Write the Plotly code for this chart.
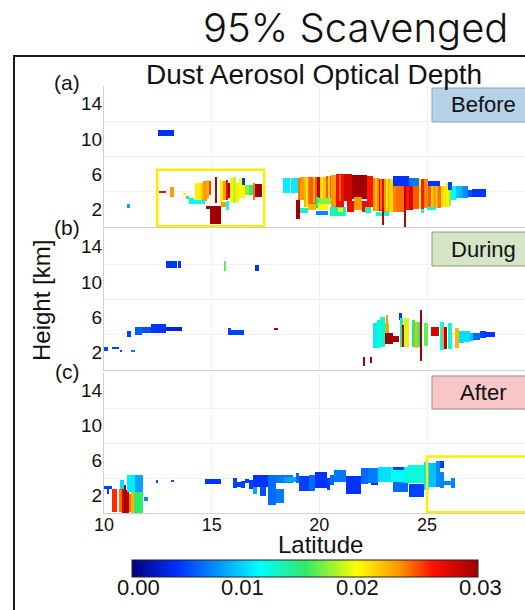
import plotly.graph_objects as go

# Each row: latitude start, latitude end, height low [km], height high [km], dust AOD
before_isolated = [
    (11.07, 11.22, 2.2, 2.6, .008), (12.5, 13.25, 10.35, 11.0, .0038),
    (12.55, 12.9, 3.9, 4.1, .027), (13.07, 13.25, 3.4, 4.55, .023),
    (13.65, 13.8, 3.65, 3.8, .02), (13.8, 13.95, 3.2, 3.5, .015),
]
before_box = [
    (13.95, 14.2, 2.6, 3.3, .013), (14.0, 14.7, 2.6, 3.05, .011),
    (14.23, 14.51, 3.07, 4.96, .02), (14.51, 14.6, 3.07, 4.96, .0215),
    (14.6, 14.76, 2.9, 5.23, .023), (14.76, 14.88, 3.26, 5.34, .022),
    (14.88, 14.95, 3.6, 5.23, .025), (15.19, 15.24, 2.7, 5.7, .029),
    (15.4, 15.53, 2.7, 5.34, .02), (15.53, 15.66, 3.07, 5.23, .023),
    (15.66, 15.78, 3.07, 5.34, .027), (15.78, 15.84, 3.3, 4.96, .03),
    (15.84, 15.97, 2.88, 5.53, .02), (15.97, 16.15, 2.69, 5.72, .018),
    (16.15, 16.25, 2.88, 5.0, .02), (16.28, 16.56, 3.26, 5.53, .0195),
    (16.4, 16.56, 4.77, 5.53, .004), (16.56, 16.74, 3.6, 4.77, .017),
    (16.74, 16.9, 3.64, 4.77, .015), (16.9, 17.02, 3.07, 4.96, .024),
    (17.02, 17.33, 3.45, 4.85, .03), (15.45, 15.66, 2.3, 2.88, .023),
    (15.66, 15.8, 1.93, 2.9, .011), (14.72, 15.45, 2.05, 2.4, .03),
    (14.9, 15.45, .35, 2.4, .03),
]
before_body = [
    (18.3, 18.65, 3.9, 5.55, .0105), (18.7, 19.0, 3.9, 5.55, .0105),
    (19.02, 19.12, 3.07, 5.6, .024), (19.12, 19.3, 3.07, 5.65, .023),
    (19.3, 19.45, 2.3, 5.65, .022), (19.45, 19.57, 2.3, 5.7, .024),
    (19.57, 19.9, 2.3, 5.7, .0245), (19.9, 20.03, 2.7, 5.65, .029),
    (20.03, 20.3, 2.6, 5.7, .0215), (20.3, 20.53, 2.6, 5.8, .0245),
    (20.53, 20.78, 2.3, 5.85, .023), (20.78, 21.15, 2.3, 6.0, .0265),
    (21.15, 21.5, 2.9, 6.05, .028), (21.5, 22.2, 3.2, 5.95, .03),
    (22.2, 22.5, 2.3, 5.8, .026), (22.5, 22.75, 1.8, 5.6, .0235),
    (22.75, 23.0, 1.8, 5.5, .027), (23.0, 23.25, 1.75, 5.45, .023),
    (23.25, 23.41, 1.75, 5.4, .021), (23.41, 23.56, 1.75, 5.3, .0235),
    (23.56, 23.95, 1.75, 4.6, .024), (24.03, 24.18, 1.95, 4.6, .026),
    (24.18, 24.33, 1.95, 4.6, .028), (24.33, 24.65, 2.0, 4.6, .0245),
    (24.65, 24.73, 2.1, 5.45, .021), (24.73, 24.88, 1.6, 5.45, .026),
    (24.88, 25.04, 2.12, 5.45, .0235), (25.04, 25.27, 2.12, 5.23, .0245),
    (25.27, 25.5, 2.12, 5.23, .023), (25.5, 25.65, 2.12, 4.7, .024),
    (25.65, 25.89, 2.3, 4.7, .021), (25.89, 26.04, 2.3, 4.96, .02),
    (26.04, 26.12, 2.4, 4.9, .017), (26.12, 26.35, 3.1, 4.6, .011),
    (26.35, 26.51, 3.26, 4.6, .009), (26.51, 26.66, 3.26, 4.6, .0085),
    (26.66, 26.89, 3.26, 4.7, .007), (26.89, 27.08, 3.45, 4.2, .005),
    (27.08, 27.75, 3.45, 4.32, .004),
]
before_stripes = [
    (19.42, 19.47, 2.3, 5.6, .02), (19.72, 19.76, 2.7, 5.7, .022),
    (20.12, 20.17, 2.7, 5.7, .02), (20.42, 20.46, 2.7, 5.8, .021),
    (20.95, 20.99, 2.9, 5.9, .024), (22.6, 22.64, 1.9, 5.6, .021),
    (22.85, 22.89, 1.9, 5.5, .024), (23.12, 23.16, 1.8, 5.4, .02),
    (24.66, 24.72, 2.1, 5.4, .02), (25.2, 25.24, 2.2, 5.2, .021),
    (25.42, 25.46, 2.2, 5.2, .021), (25.75, 25.79, 2.3, 4.7, .02),
]
before_patches = [
    (23.41, 24.18, 4.6, 5.83, .004), (24.18, 24.65, 4.6, 5.55, .0065),
    (25.04, 25.58, 4.7, 5.23, .004), (25.97, 26.17, 4.2, 5.08, .0045),
    (18.91, 19.1, .9, 3.07, .03), (19.11, 19.45, 1.55, 2.1, .0125),
    (19.45, 19.84, 1.9, 2.6, .022), (19.84, 20.0, 2.1, 3.4, .014),
    (19.84, 20.38, 1.4, 1.85, .007), (19.95, 20.38, 1.9, 2.7, .0195),
    (20.0, 20.54, 2.6, 3.3, .017), (20.5, 21.24, 1.2, 2.3, .013),
    (20.85, 21.08, 1.75, 2.2, .019), (21.3, 21.6, 1.75, 2.9, .027),
    (21.6, 21.97, 1.95, 3.4, .023), (21.97, 22.3, 1.75, 2.9, .027),
    (22.1, 22.4, 1.55, 2.3, .013), (22.63, 23.25, 1.2, 1.75, .012),
    (22.95, 23.0, .25, 2.1, .029), (23.95, 24.03, .05, 4.6, .029),
    (24.73, 24.88, 1.55, 2.0, .012), (25.0, 25.4, 1.95, 2.3, .012),
]

during_isolated = [
    (12.87, 13.4, 11.55, 12.4, .004), (13.45, 13.57, 11.55, 12.4, .004),
    (15.6, 15.66, 11.2, 12.4, .016), (17.02, 17.2, 11.2, 11.9, .004),
    (11.05, 11.27, 3.7, 4.43, .0045), (11.43, 11.78, 4.0, 4.9, .0055),
    (11.78, 12.17, 4.15, 4.9, .005), (12.17, 12.87, 4.15, 5.2, .004),
    (12.87, 13.64, 4.43, 4.9, .003), (15.74, 15.9, 4.0, 4.75, .0045),
    (15.74, 16.5, 4.0, 4.55, .0045), (17.9, 18.1, 4.5, 4.8, .03),
    (10.0, 10.2, 2.1, 2.65, .0045), (10.36, 10.7, 2.35, 2.65, .0045),
    (10.75, 10.82, 2.1, 2.3, .005), (11.24, 11.44, 2.0, 2.25, .0065),
    (22.06, 22.14, .5, 1.5, .03), (22.37, 22.45, .75, 1.5, .03),
]
during_columns = [
    (22.51, 22.67, 2.45, 5.3, .0105), (22.67, 22.82, 2.54, 5.68, .012),
    (22.82, 23.04, 2.65, 6.06, .0125), (23.07, 23.23, 3.9, 5.3, .016),
    (23.1, 23.16, 4.0, 6.25, .023), (23.07, 23.41, 3.0, 4.15, .03),
    (23.41, 23.72, 3.15, 3.9, .03), (23.72, 23.83, 5.7, 6.45, .004),
    (23.75, 23.9, 2.65, 5.87, .014), (23.85, 23.93, 2.65, 5.11, .029),
    (23.93, 24.15, 2.65, 5.95, .0185), (24.28, 24.46, 2.65, 5.68, .015),
    (24.46, 24.56, 2.46, 5.5, .022), (24.56, 24.62, 2.65, 5.5, .016),
    (24.62, 24.71, 2.65, 5.5, .014), (24.71, 24.77, 1.03, 6.82, .03),
    (24.87, 25.05, 2.77, 5.3, .016), (25.2, 25.55, 3.9, 4.92, .028),
    (25.58, 25.77, 2.27, 5.42, .011), (25.74, 25.83, 2.77, 4.92, .023),
    (25.83, 25.92, 2.39, 4.92, .029), (25.97, 26.14, 2.39, 5.3, .012),
    (26.14, 26.32, 3.98, 4.17, .02), (26.32, 26.48, 2.46, 4.8, .022),
    (26.48, 26.72, 3.03, 4.43, .01), (26.72, 26.98, 3.14, 4.43, .01),
    (26.98, 27.13, 3.3, 4.17, .009), (27.13, 27.44, 3.41, 4.17, .006),
    (27.44, 27.75, 3.6, 4.43, .0045), (27.75, 28.14, 3.79, 4.28, .004),
]

after_left = [
    (10.0, 10.36, 2.8, 3.07, .0045), (10.16, 10.24, 2.2, 3.0, .0045),
    (10.39, 10.62, .15, 2.8, .0255), (10.7, 10.82, .15, 2.8, .024),
    (10.82, 10.93, .05, 3.3, .028), (10.73, 10.93, 2.8, 3.8, .01),
    (10.93, 11.04, .05, 3.2, .03), (11.04, 11.17, .05, 2.6, .029),
    (11.09, 11.44, 2.4, 4.3, .0105), (11.17, 11.26, .15, 2.2, .024),
    (11.26, 11.4, .05, 2.4, .022), (11.44, 11.83, 2.4, 4.3, .008),
    (11.4, 11.83, .05, 2.4, .015), (11.86, 12.02, 1.4, 1.85, .007),
    (12.4, 12.53, 3.4, 3.75, .005), (13.1, 13.26, 3.55, 3.75, .005),
    (14.68, 15.43, 3.3, 3.85, .004),
]
after_mid = [
    (15.97, 16.17, 2.9, 4.05, .0045), (16.17, 16.36, 3.0, 3.55, .0045),
    (16.36, 16.54, 2.9, 3.65, .0045), (16.54, 16.74, 3.4, 3.85, .0045),
    (16.74, 16.9, 2.7, 3.75, .0045), (16.9, 17.1, 2.2, 3.2, .008),
    (16.94, 17.6, 3.0, 4.3, .004), (17.25, 17.52, 2.0, 3.0, .005),
    (17.6, 17.98, .9, 4.3, .006), (17.98, 18.34, 1.1, 2.8, .0065),
    (17.98, 18.76, 3.4, 4.3, .0065), (18.34, 18.91, 3.55, 4.1, .008),
    (18.91, 19.07, 3.4, 4.6, .006), (19.07, 19.53, 2.5, 4.2, .0045),
    (19.53, 19.8, 2.5, 4.4, .006), (19.8, 20.35, 2.9, 4.7, .004),
    (20.35, 20.5, 2.6, 3.95, .0045), (20.5, 20.69, 3.2, 4.4, .006),
]
after_right = [
    (20.69, 21.24, 3.55, 4.9, .0065), (21.24, 21.94, 2.2, 4.2, .004),
    (21.94, 22.25, 3.37, 5.1, .006), (22.25, 22.71, 3.4, 5.1, .0065),
    (22.4, 22.71, 3.2, 3.4, .004), (22.71, 23.33, 3.55, 5.27, .01),
    (23.33, 23.41, 3.55, 5.27, .012), (23.41, 23.95, 3.55, 5.27, .011),
    (23.41, 23.95, 4.9, 5.27, .0045), (23.41, 24.1, 2.4, 3.55, .006),
    (23.95, 24.11, 3.45, 5.3, .012), (24.11, 24.88, 3.45, 5.45, .012),
    (24.15, 24.88, 1.85, 3.37, .0045), (24.88, 25.08, 2.6, 5.8, .01),
    (25.08, 25.42, 3.0, 5.7, .009), (25.42, 25.61, 3.0, 6.0, .007),
    (25.61, 25.77, 5.1, 6.0, .0045), (25.61, 25.81, 2.9, 4.7, .007),
    (25.81, 26.2, 3.2, 3.7, .007), (26.12, 26.32, 2.9, 3.95, .007),
]

panel_rows = {
    "before": before_isolated + before_box + before_body + before_stripes + before_patches,
    "during": during_isolated + during_columns,
    "after": after_left + after_mid + after_right,
}
y_ticks = [2, 6, 10, 14]
y_grid = [4, 8, 12]
x_ticks = [10, 15, 20, 25]
bar_tick_labels = ["0.00", "0.01", "0.02", "0.03"]

W, H = 525, 610
SANS = "Liberation Sans"
jet = [[0, "#00007f"], [.13, "#0030ff"], [.37, "#00ffff"], [.5, "#30e86a"],
       [.65, "#ffff00"], [.77, "#ff9800"], [.87, "#ff1000"], [1, "#a00000"]]
def px(x): return x / W
def py(y): return 1 - y / H

fig = go.Figure()
domains = {"before": (86, 227), "during": (229, 370), "after": (373, 513)}
for i, (name, rows) in enumerate(panel_rows.items(), start=1):
    fig.add_bar(
        x=[(r[0] + r[1]) / 2 for r in rows], width=[r[1] - r[0] for r in rows],
        base=[r[2] for r in rows], y=[r[3] - r[2] for r in rows],
        marker=dict(color=[r[4] for r in rows], coloraxis="coloraxis", line_width=0),
        xaxis=f"x{i}", yaxis=f"y{i}", name=name, showlegend=False,
    )
    top, bottom = domains[name]
    fig.layout[f"xaxis{i}"] = dict(
        domain=[px(104), 1], range=[10, 29.55], anchor=f"y{i}", tickvals=x_ticks,
        showticklabels=i == 3, ticks="", gridcolor="#f1f1f1", zeroline=False,
        showline=True, linecolor="#cfcfcf", linewidth=1, ticklabelstandoff=-5,
        tickfont=dict(family=SANS, size=18, color="#111"),
    )
    fig.layout[f"yaxis{i}"] = dict(
        domain=[py(bottom), py(top)], range=[0, 16], anchor=f"x{i}", tickvals=y_ticks,
        ticks="", showgrid=False, zeroline=False, showline=True, linecolor="#cfcfcf", linewidth=1,
        minor=dict(tickvals=y_grid, showgrid=True, gridcolor="#f1f1f1", ticks=""),
        ticklabelstandoff=-3,
        tickfont=dict(family=SANS, size=19, color="#111"),
    )

shapes = [
    dict(type="rect", xref="paper", yref="paper", x0=px(14), x1=1.2, y0=-0.2, y1=py(56),
         line=dict(color="#1a1a1a", width=2)),
    dict(type="rect", xref="x1", yref="y1", x0=12.47, x1=17.44, y0=.1, y1=6.5,
         line=dict(color="#ffee00", width=2.5)),
    dict(type="rect", xref="x3", yref="y3", x0=25, x1=31, y0=.1, y1=6.45,
         line=dict(color="#ffee00", width=2.5)),
]
annotations = [
    dict(text="95% Scavenged", xref="paper", yref="paper", x=px(510), y=py(27), xanchor="right",
         yanchor="middle", showarrow=False,
         font=dict(family="Inter", size=40, weight=300, color="#111")),
    dict(text="Dust Aerosol Optical Depth", xref="paper", yref="paper", x=px(314), y=py(74),
         xanchor="center", yanchor="middle", showarrow=False, font=dict(family=SANS, size=28, color="#111")),
    dict(text="Height [km]", xref="paper", yref="paper", x=px(41), y=py(301), textangle=-90,
         xanchor="center", yanchor="middle", showarrow=False, font=dict(family=SANS, size=24, color="#111")),
    dict(text="Latitude", xref="paper", yref="paper", x=px(320), y=py(544),
         xanchor="center", yanchor="middle", showarrow=False, font=dict(family=SANS, size=24, color="#111")),
]
for label, y in [("(a)", 83), ("(b)", 227), ("(c)", 371)]:
    annotations.append(dict(text=label, xref="paper", yref="paper", x=px(67), y=py(y), xanchor="center",
                            yanchor="middle", showarrow=False, font=dict(family=SANS, size=21, color="#111")))
for label, top, bottom, fill, edge in [
    ("Before", 88, 122, "#b5d2e8", "#8ca3b5"),
    ("During", 232, 266, "#d6e5c6", "#8a9a7c"),
    ("After", 376, 409, "#f8c6c6", "#a08a8a"),
]:
    shapes.append(dict(type="rect", xref="paper", yref="paper", x0=px(432), x1=1.1, y0=py(bottom), y1=py(top),
                       fillcolor=fill, line=dict(color=edge, width=1)))
    annotations.append(dict(text=label, xref="paper", yref="paper", x=px(483), y=py((top + bottom) / 2),
                            xanchor="center", yanchor="middle", showarrow=False,
                            font=dict(family=SANS, size=22, color="#111")))
for label, x in zip(bar_tick_labels, (138, 242, 357, 480)):
    annotations.append(dict(text=label, xref="paper", yref="paper", x=px(x), y=py(587), xanchor="center",
                            yanchor="middle", showarrow=False, font=dict(family=SANS, size=22, color="#111")))

fig.update_layout(
    width=W, height=H, margin=dict(l=0, r=0, t=0, b=0, autoexpand=False),
    paper_bgcolor="white", plot_bgcolor="white",
    barmode="overlay", bargap=0, shapes=shapes, annotations=annotations,
    coloraxis=dict(cmin=0, cmax=.03, colorscale=jet, colorbar=dict(
        orientation="h", lenmode="pixels", len=346, thicknessmode="pixels", thickness=17,
        x=px(132), xanchor="left", y=py(560), yanchor="top", xpad=0, ypad=0,
        showticklabels=False, ticks="", outlinecolor="#222", outlinewidth=1,
    )),
)
fig.write_html("out.html", config=dict(displayModeBar=False),
               post_script="document.body.style.margin='0';document.body.style.overflow='hidden';")
